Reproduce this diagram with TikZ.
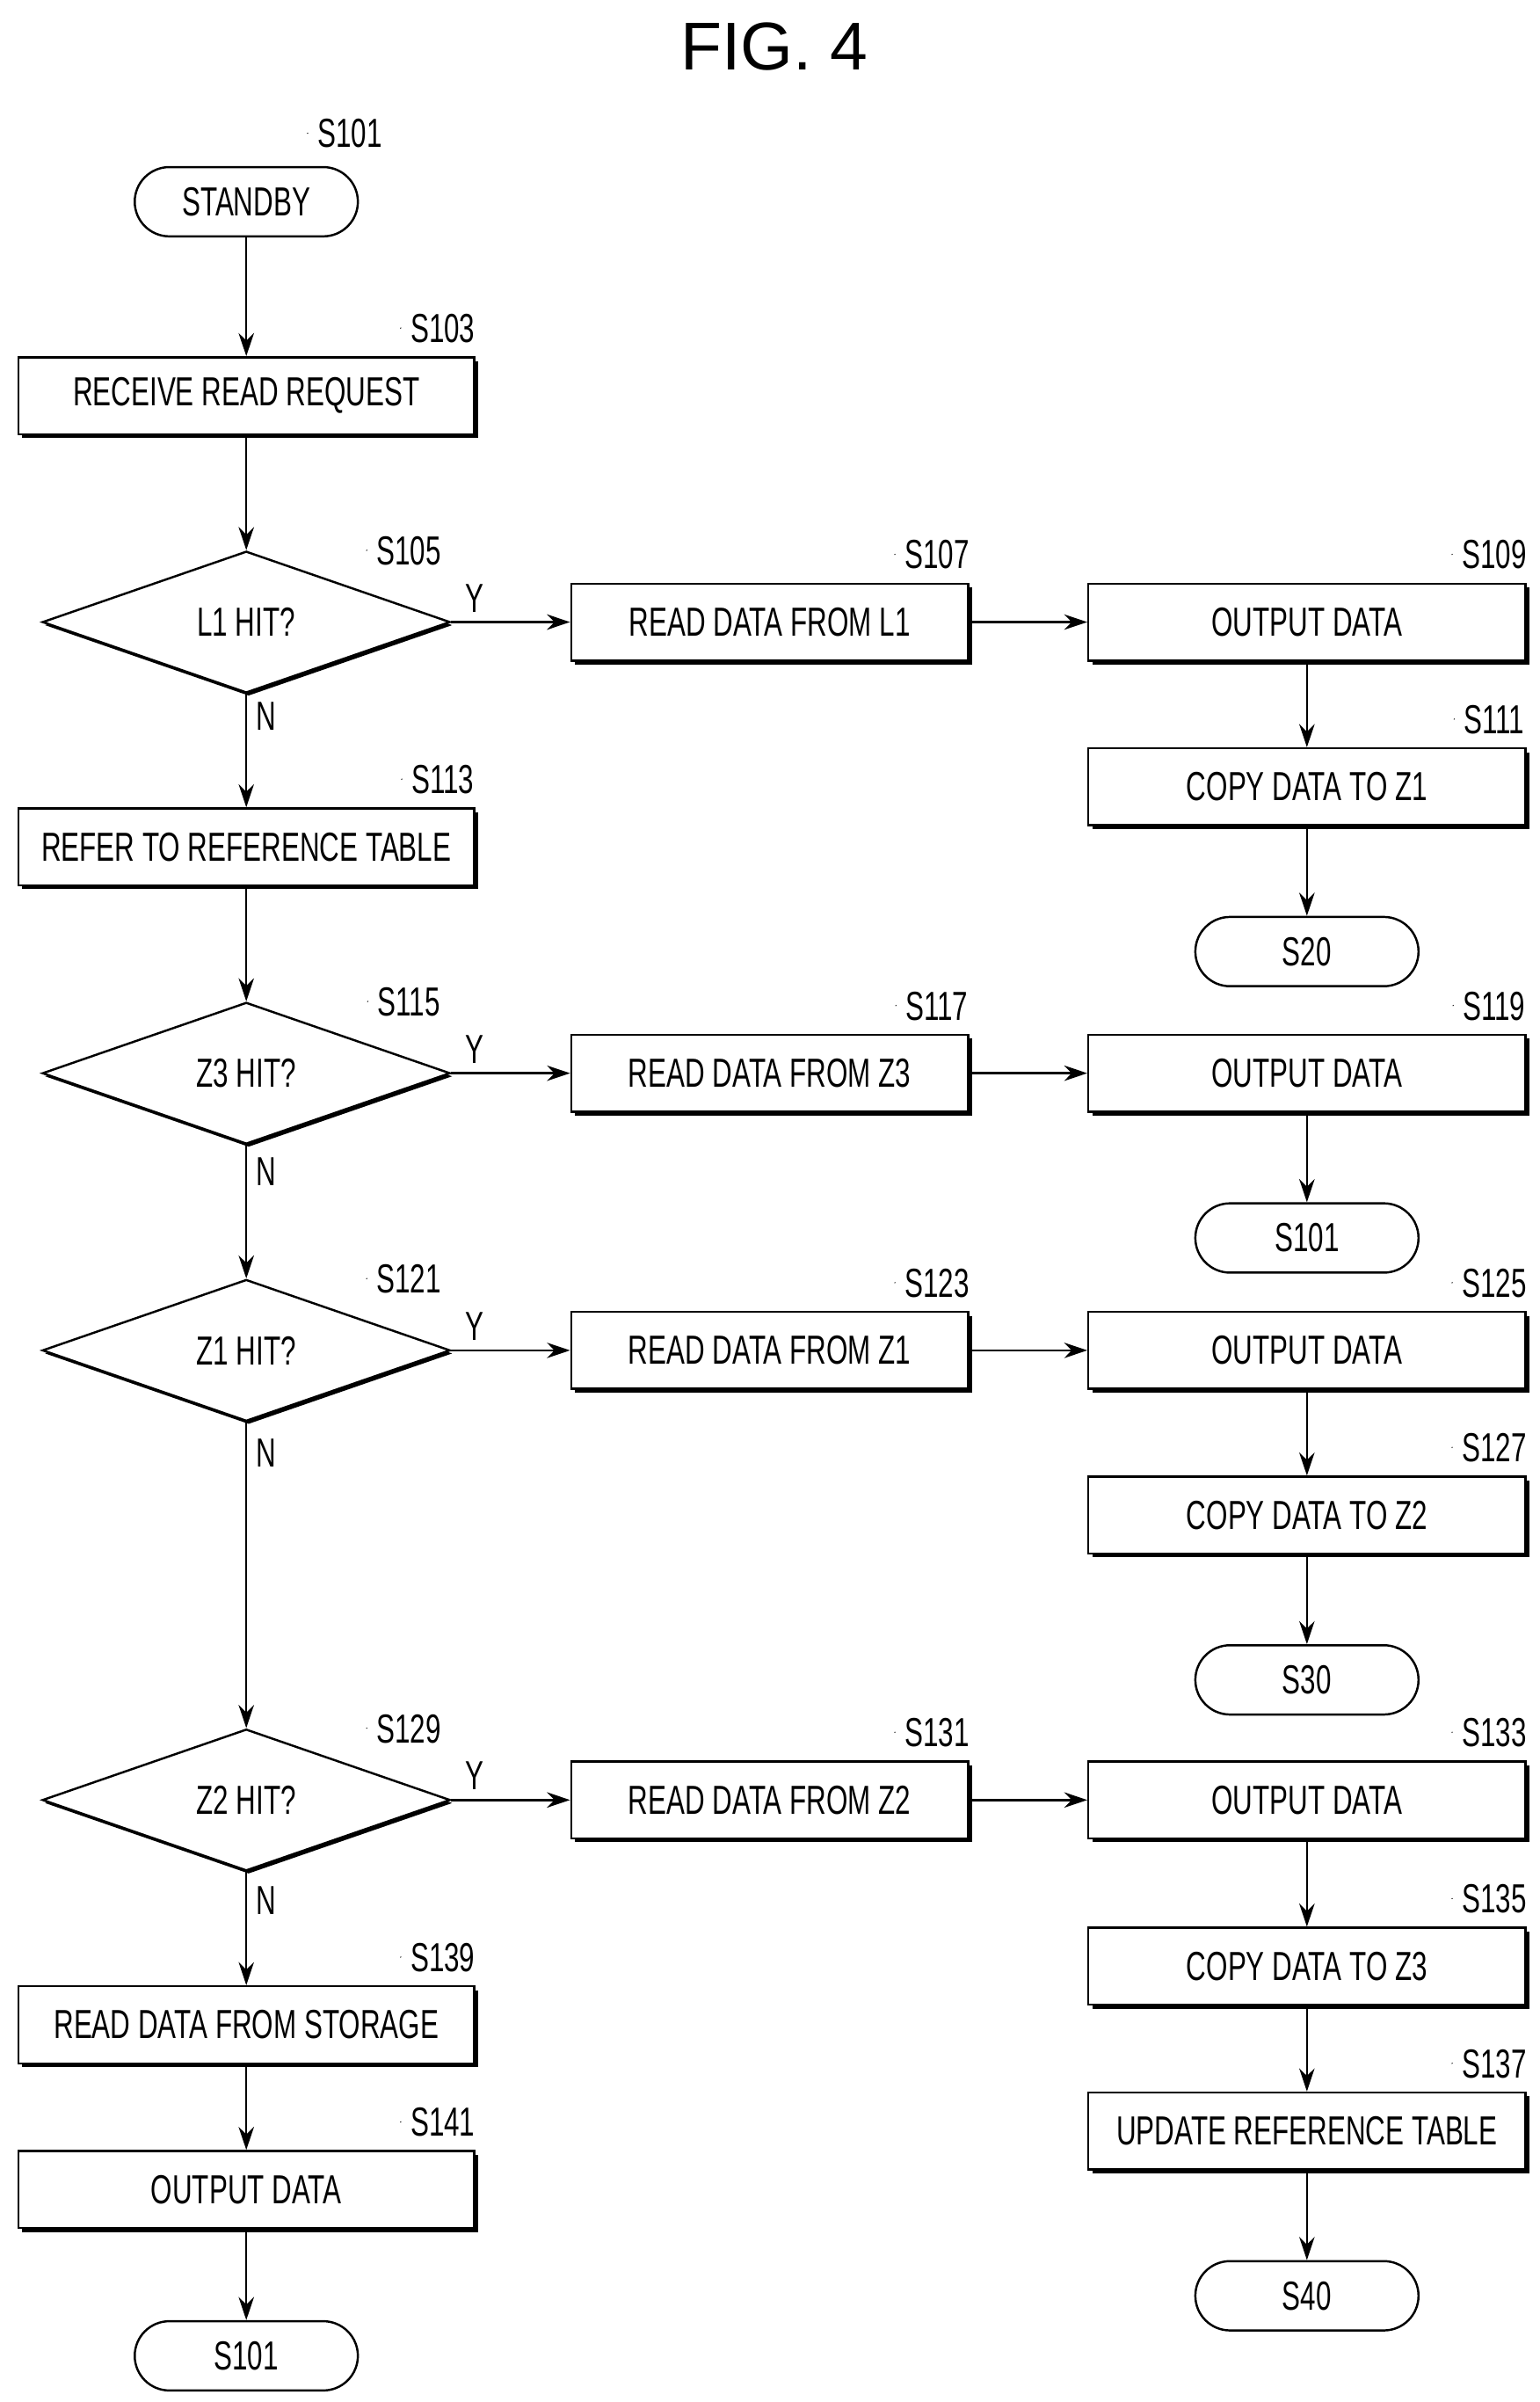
\documentclass[tikz,border=0pt]{standalone}
\usepackage{fontspec}
\setsansfont{Liberation Sans}[FakeStretch=0.68]
\newfontfamily\titlefont{Liberation Sans}
\usetikzlibrary{shapes.geometric,arrows.meta,shadows}
\tikzset{
  box/.style={rectangle, draw, thick, fill=white, minimum height=1cm, inner sep=0pt,
    drop shadow={opacity=1, fill=black, shadow xshift=0.05cm, shadow yshift=-0.05cm}},
  wbox/.style={box, minimum width=5.92cm},
  mbox/.style={box, minimum width=5.16cm},
  rbox/.style={box, minimum width=5.68cm},
  term/.style={rectangle, rounded corners=0.45cm, draw, thick, fill=white, minimum width=2.9cm, minimum height=0.9cm},
  dec/.style={diamond, draw, thick, fill=white, inner sep=0pt, minimum width=5.3cm, minimum height=1.84cm,
    drop shadow={opacity=1, fill=black, shadow xshift=0.03cm, shadow yshift=-0.04cm}},
  arr/.style={-{Stealth[length=0.3cm,width=0.2cm]}, thick},
  yn/.style={font=\sffamily\fontsize{15}{18}\selectfont}
}
% step number with its small tick
\newcommand{\stepno}[4]{%
  \node[yn] (#1l) at ($(#1.#2)+(#3)$) {#4};
  \draw (#1l.west) ++(-0.02,-0.12) to[bend left=20] ++(-0.4,-0.3);}
\usetikzlibrary{calc}
\begin{document}
\begin{tikzpicture}[x=0.02cm,y=-0.02cm, font=\sffamily\fontsize{15}{18}\selectfont]
\useasboundingbox (0,0) rectangle (1000,1560);
\node[font=\titlefont\fontsize{25}{30}\selectfont] (title) at (503,30) {FIG. 4};

% left column
\node[term] (s101) at (160,131) {STANDBY};
\node[wbox] (s103) at (160,257) {RECEIVE READ REQUEST};
\node[dec] (s105) at (160,404) {L1 HIT?};
\node[wbox] (s113) at (160,550) {REFER TO REFERENCE TABLE};
\node[dec] (s115) at (160,697) {Z3 HIT?};
\node[dec] (s121) at (160,877) {Z1 HIT?};
\node[dec] (s129) at (160,1169) {Z2 HIT?};
\node[wbox] (s139) at (160,1315) {READ DATA FROM STORAGE};
\node[wbox] (s141) at (160,1422) {OUTPUT DATA};
\node[term] (e101b) at (160,1530) {S101};

% middle column
\node[mbox] (s107) at (500,404) {READ DATA FROM L1};
\node[mbox] (s117) at (500,697) {READ DATA FROM Z3};
\node[mbox] (s123) at (500,877) {READ DATA FROM Z1};
\node[mbox] (s131) at (500,1169) {READ DATA FROM Z2};

% right column
\node[rbox] (s109) at (849,404) {OUTPUT DATA};
\node[rbox] (s111) at (849,511) {COPY DATA TO Z1};
\node[term] (e20) at (849,618) {S20};
\node[rbox] (s119) at (849,697) {OUTPUT DATA};
\node[term] (e101a) at (849,804) {S101};
\node[rbox] (s125) at (849,877) {OUTPUT DATA};
\node[rbox] (s127) at (849,984) {COPY DATA TO Z2};
\node[term] (e30) at (849,1091) {S30};
\node[rbox] (s133) at (849,1169) {OUTPUT DATA};
\node[rbox] (s135) at (849,1277) {COPY DATA TO Z3};
\node[rbox] (s137) at (849,1384) {UPDATE REFERENCE TABLE};
\node[term] (e40) at (849,1491) {S40};

% step numbers
\stepno{s101}{north east}{-6,-21}{S101}
\foreach \n in {s103,s113,s139,s141,s107,s117,s123,s131,s109,s111,s119,s125,s127,s133,s135,s137}
  {\stepno{\n}{north east}{-21,-18}{\MakeUppercase{\n}}}
\foreach \n in {s105,s115,s121,s129}
  {\stepno{\n}{north east}{39,-23}{\MakeUppercase{\n}}}

% connectors
\draw[arr] (s101) -- (s103);
\draw[arr] (s103) -- (s105);
\draw[arr] (s105) -- node[yn, pos=0.2, right] {N} (s113);
\draw[arr] (s113) -- (s115);
\draw[arr] (s115) -- node[yn, pos=0.2, right] {N} (s121);
\draw[arr] (s121) -- node[yn, pos=0.1, right] {N} (s129);
\draw[arr] (s129) -- node[yn, pos=0.25, right] {N} (s139);
\draw[arr] (s139) -- (s141);
\draw[arr] (s141) -- (e101b);
\foreach \d/\m/\r in {s105/s107/s109, s115/s117/s119, s121/s123/s125, s129/s131/s133} {
  \draw[arr] (\d.east) -- node[yn, pos=0.2, above] {Y} (\m);
  \draw[arr] (\m) -- (\r);
}
\draw[arr] (s109) -- (s111);
\draw[arr] (s111) -- (e20);
\draw[arr] (s119) -- (e101a);
\draw[arr] (s125) -- (s127);
\draw[arr] (s127) -- (e30);
\draw[arr] (s133) -- (s135);
\draw[arr] (s135) -- (s137);
\draw[arr] (s137) -- (e40);
\end{tikzpicture}
\end{document}
